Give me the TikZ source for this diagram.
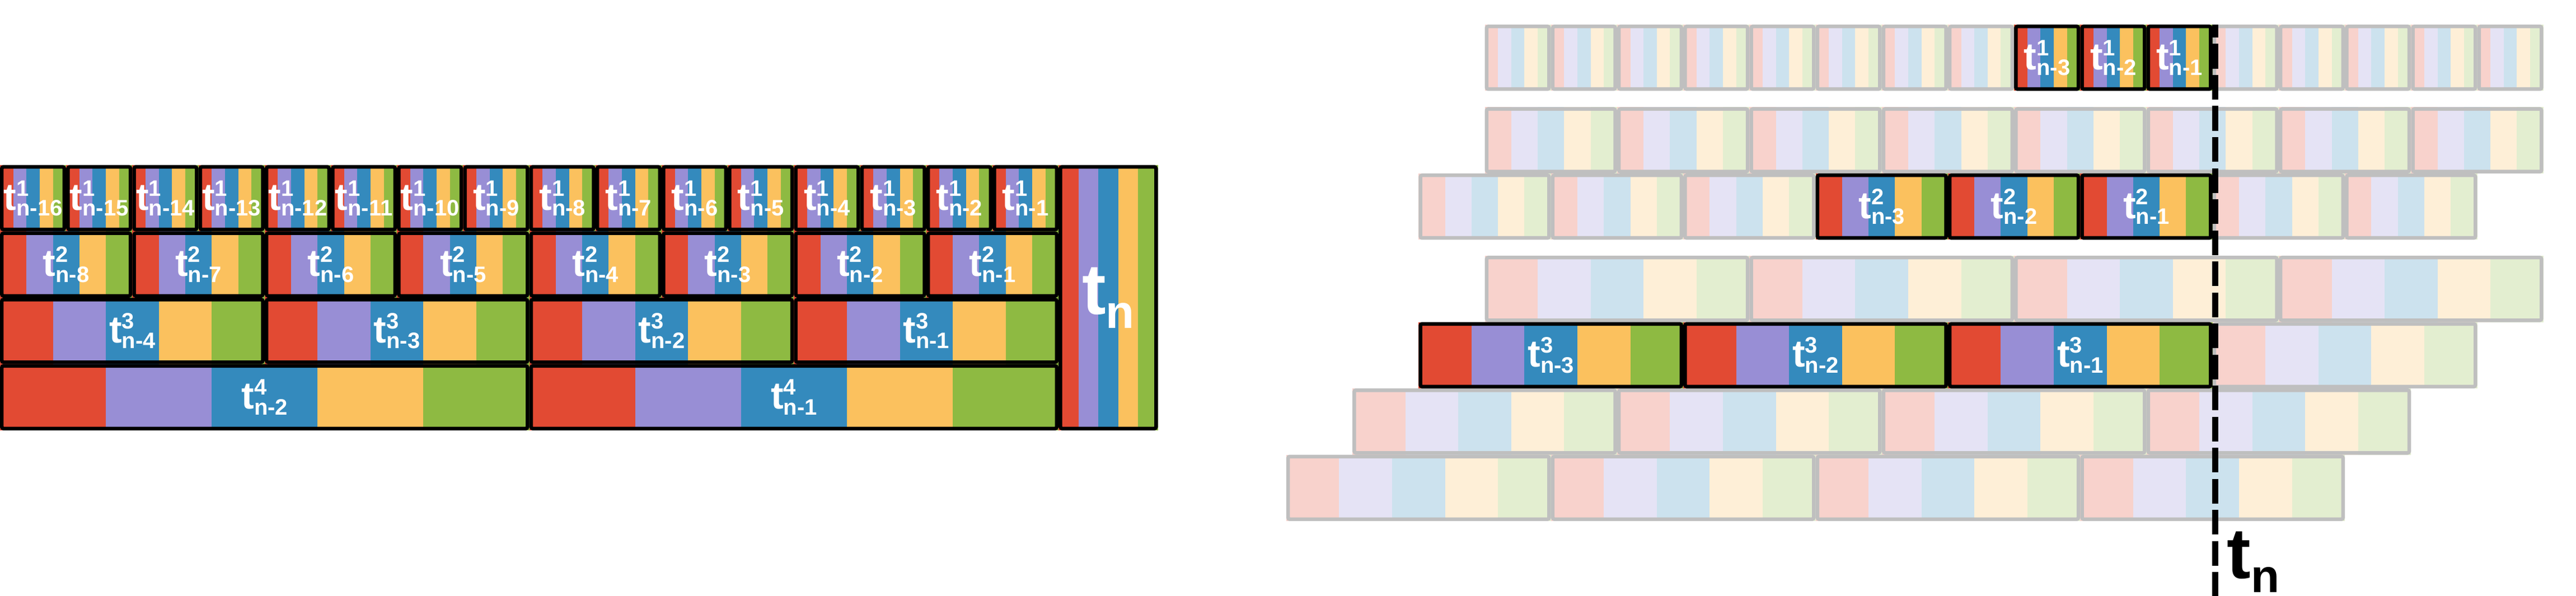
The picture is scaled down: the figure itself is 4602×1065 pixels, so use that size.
\documentclass[tikz,border=0pt]{standalone}
\usepackage{fontspec}
\setmainfont{Liberation Sans}
\definecolor{cR}{HTML}{E24A33}
\definecolor{cP}{HTML}{988ED5}
\definecolor{cB}{HTML}{348ABD}
\definecolor{cY}{HTML}{FBC15E}
\definecolor{cG}{HTML}{8EBA42}
\definecolor{cGray}{HTML}{BFBFBF}
\tikzset{
  boxline/.style={line width=1.3pt, rounded corners=0.6pt},
  lbl/.style={inner sep=0pt, text=white, font=\bfseries},
  tnlbl/.style={inner sep=0pt, font=\bfseries},
  dashline/.style={line width=2.12pt, dash pattern=on 8.86pt off 2.24pt, dash phase=4.2pt},
}
% x y w h tint bordercolor
\newcommand\tbox[6]{%
  \foreach \ii/\cc in {0/cR,1/cP,2/cB,3/cY,4/cG}{
    \fill[\cc!#5] ({#1+\ii*(#3)/5},{#2}) rectangle ({#1+(\ii+1)*(#3)/5},{#2+#4});
  }
  \draw[boxline,#6] ({#1+3.25},{#2+3.25}) rectangle ({#1+#3-3.25},{#2+#4-3.25});
}
\newcommand\tlab[2]{{\fontsize{13.6}{14}\selectfont t}\rlap{\raisebox{5pt}{\fontsize{8}{8}\selectfont #1}}\raisebox{-2.1pt}{\fontsize{8}{8}\selectfont #2}}
\newcommand\tnlab{{\fontsize{25.6}{26}\selectfont t}\raisebox{-5pt}{\fontsize{16.7}{17}\selectfont n}}
\begin{document}
\begin{tikzpicture}[x=0.2pt,y=-0.2pt]
\useasboundingbox (0,0) rectangle (4602,1065);
% ---------------- left structure ----------------
\foreach \L/\nb/\w in {1/16/118.2, 2/8/236.4, 3/4/472.8, 4/2/945.6}{
  \pgfmathsetmacro\yy{295+(\L-1)*118.5}
  \foreach \k in {1,...,\nb}{
    \pgfmathsetmacro\xx{(\k-1)*\w}
    \pgfmathtruncatemacro\m{\nb-\k+1}
    \tbox{\xx}{\yy}{\w}{118.5}{100}{black}
    \node[lbl] (left-\L-\k) at ({\xx+\w/2},{\yy+59.25}) {\tlab{\L}{n-\m}};
  }
}
\tbox{1891.2}{295}{177.3}{474}{100}{black}
\node[lbl] (tnL) at (1979.85,532) {\tnlab};
% ---------------- right structure ----------------
% faded rows: top y / number of boxes / width / offset in units
\foreach \yy/\nb/\w/\o in {44/16/118.2/0, 191.5/8/236.4/0, 310/8/236.4/-1, 457/4/472.8/0, 575.5/4/472.8/-1, 694/4/472.8/-2, 812.5/4/472.8/-3}{
  \foreach \k in {1,...,\nb}{
    \pgfmathsetmacro\xx{2652.5+\o*118.2+(\k-1)*\w}
    \tbox{\xx}{\yy}{\w}{118.5}{25}{cGray}
  }
}
% highlighted boxes
\foreach \k in {9,10,11}{
  \pgfmathsetmacro\xx{2652.5+(\k-1)*118.2}
  \pgfmathtruncatemacro\m{12-\k}
  \tbox{\xx}{44}{118.2}{118.5}{100}{black}
  \node[lbl] (r1-\k) at ({\xx+59.1},{44+59.25}) {\tlab{1}{n-\m}};
}
\foreach \k in {4,5,6}{
  \pgfmathsetmacro\xx{2652.5-118.2+(\k-1)*236.4}
  \pgfmathtruncatemacro\m{7-\k}
  \tbox{\xx}{310}{236.4}{118.5}{100}{black}
  \node[lbl] (r3-\k) at ({\xx+118.2},{310+59.25}) {\tlab{2}{n-\m}};
}
\foreach \k in {1,2,3}{
  \pgfmathsetmacro\xx{2652.5-118.2+(\k-1)*472.8}
  \pgfmathtruncatemacro\m{4-\k}
  \tbox{\xx}{575.5}{472.8}{118.5}{100}{black}
  \node[lbl] (r5-\k) at ({\xx+236.4},{575.5+59.25}) {\tlab{3}{n-\m}};
}
% time marker
\coordinate (dtop) at (3957.3,44);
\coordinate (dbot) at (3957.3,1065);
\draw[dashline] (dtop) -- (dbot);
\node[tnlbl] (tnR) at (4025.5,1004.5) {\tnlab};
\end{tikzpicture}
\end{document}
